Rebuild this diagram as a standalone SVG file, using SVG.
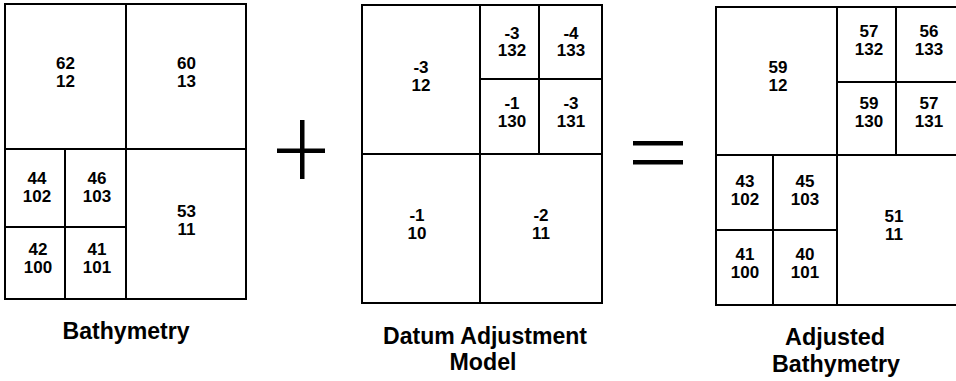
<svg xmlns="http://www.w3.org/2000/svg" width="956" height="381" viewBox="0 0 956 381">
<style>
  .cell { fill: #ffffff; stroke: #000000; stroke-width: 2; }
  .v { font-family: "Liberation Sans", Arial, sans-serif; font-size: 17px; font-weight: bold; fill: #000000; text-anchor: middle; }
  .lbl { font-family: "Liberation Sans", Arial, sans-serif; font-size: 24px; font-weight: bold; fill: #000000; text-anchor: middle; }
  .op { fill: #000000; }
</style>
<rect x="0" y="0" width="956" height="381" fill="#ffffff"/>

<!-- Bathymetry grid -->
<g id="bathymetry">
  <g id="b-12"><rect class="cell" x="5" y="4" width="121" height="145"/><text class="v" x="65.5" y="69"><tspan x="65.5">62</tspan><tspan x="65.5" dy="17.5">12</tspan></text></g>
  <g id="b-13"><rect class="cell" x="126" y="4" width="120" height="145"/><text class="v" x="186.5" y="69"><tspan x="186.5">60</tspan><tspan x="186.5" dy="17.5">13</tspan></text></g>
  <g id="b-102"><rect class="cell" x="5" y="149" width="60" height="78"/><text class="v" x="37" y="184"><tspan x="37">44</tspan><tspan x="37" dy="17.5">102</tspan></text></g>
  <g id="b-103"><rect class="cell" x="65" y="149" width="61" height="78"/><text class="v" x="97" y="184"><tspan x="97">46</tspan><tspan x="97" dy="17.5">103</tspan></text></g>
  <g id="b-100"><rect class="cell" x="5" y="227" width="60" height="72"/><text class="v" x="38" y="255"><tspan x="38">42</tspan><tspan x="38" dy="17.5">100</tspan></text></g>
  <g id="b-101"><rect class="cell" x="65" y="227" width="61" height="72"/><text class="v" x="97" y="255"><tspan x="97">41</tspan><tspan x="97" dy="17.5">101</tspan></text></g>
  <g id="b-11"><rect class="cell" x="126" y="149" width="120" height="150"/><text class="v" x="186.5" y="217"><tspan x="186.5">53</tspan><tspan x="186.5" dy="17.5">11</tspan></text></g>
  <text class="lbl" x="126" y="339" textLength="127" lengthAdjust="spacingAndGlyphs">Bathymetry</text>
</g>

<!-- Datum Adjustment Model grid -->
<g id="datum">
  <g id="d-12"><rect class="cell" x="362" y="5" width="118" height="149"/><text class="v" x="421" y="73"><tspan x="421">-3</tspan><tspan x="421" dy="17.5">12</tspan></text></g>
  <g id="d-132"><rect class="cell" x="480" y="5" width="59" height="74"/><text class="v" x="512" y="38.5"><tspan x="512">-3</tspan><tspan x="512" dy="17.5">132</tspan></text></g>
  <g id="d-133"><rect class="cell" x="539" y="5" width="63" height="74"/><text class="v" x="571" y="38.5"><tspan x="571">-4</tspan><tspan x="571" dy="17.5">133</tspan></text></g>
  <g id="d-130"><rect class="cell" x="480" y="79" width="59" height="75"/><text class="v" x="512" y="109"><tspan x="512">-1</tspan><tspan x="512" dy="17.5">130</tspan></text></g>
  <g id="d-131"><rect class="cell" x="539" y="79" width="63" height="75"/><text class="v" x="571" y="109"><tspan x="571">-3</tspan><tspan x="571" dy="17.5">131</tspan></text></g>
  <g id="d-10"><rect class="cell" x="362" y="154" width="118" height="149"/><text class="v" x="417" y="221"><tspan x="417">-1</tspan><tspan x="417" dy="17.5">10</tspan></text></g>
  <g id="d-11"><rect class="cell" x="480" y="154" width="122" height="149"/><text class="v" x="541" y="221"><tspan x="541">-2</tspan><tspan x="541" dy="17.5">11</tspan></text></g>
  <text class="lbl" x="485" y="344" textLength="204" lengthAdjust="spacingAndGlyphs">Datum Adjustment</text>
  <text class="lbl" x="483" y="370" textLength="67" lengthAdjust="spacingAndGlyphs">Model</text>
</g>

<!-- Adjusted Bathymetry grid -->
<g id="adjusted">
  <g id="a-12"><rect class="cell" x="716" y="7" width="121" height="148"/><text class="v" x="778" y="73"><tspan x="778">59</tspan><tspan x="778" dy="17.5">12</tspan></text></g>
  <g id="a-132"><rect class="cell" x="837" y="7" width="59" height="75"/><text class="v" x="869" y="37"><tspan x="869">57</tspan><tspan x="869" dy="17.5">132</tspan></text></g>
  <g id="a-133"><rect class="cell" x="896" y="7" width="62" height="75"/><text class="v" x="929" y="37"><tspan x="929">56</tspan><tspan x="929" dy="17.5">133</tspan></text></g>
  <g id="a-130"><rect class="cell" x="837" y="82" width="59" height="73"/><text class="v" x="869" y="109"><tspan x="869">59</tspan><tspan x="869" dy="17.5">130</tspan></text></g>
  <g id="a-131"><rect class="cell" x="896" y="82" width="62" height="73"/><text class="v" x="929" y="109"><tspan x="929">57</tspan><tspan x="929" dy="17.5">131</tspan></text></g>
  <g id="a-102"><rect class="cell" x="716" y="155" width="57" height="75"/><text class="v" x="745" y="187"><tspan x="745">43</tspan><tspan x="745" dy="17.5">102</tspan></text></g>
  <g id="a-103"><rect class="cell" x="773" y="155" width="64" height="75"/><text class="v" x="805" y="187"><tspan x="805">45</tspan><tspan x="805" dy="17.5">103</tspan></text></g>
  <g id="a-100"><rect class="cell" x="716" y="230" width="57" height="75"/><text class="v" x="745" y="260"><tspan x="745">41</tspan><tspan x="745" dy="17.5">100</tspan></text></g>
  <g id="a-101"><rect class="cell" x="773" y="230" width="64" height="75"/><text class="v" x="805" y="260"><tspan x="805">40</tspan><tspan x="805" dy="17.5">101</tspan></text></g>
  <g id="a-11"><rect class="cell" x="837" y="155" width="121" height="150"/><text class="v" x="894" y="222"><tspan x="894">51</tspan><tspan x="894" dy="17.5">11</tspan></text></g>
  <text class="lbl" x="835" y="345" textLength="100" lengthAdjust="spacingAndGlyphs">Adjusted</text>
  <text class="lbl" x="836" y="371.5" textLength="128" lengthAdjust="spacingAndGlyphs">Bathymetry</text>
</g>

<!-- operators -->
<g id="connectors">
  <g id="plus">
    <rect class="op" x="300" y="120" width="4.5" height="59"/>
    <rect class="op" x="277" y="148.5" width="48" height="4.5"/>
  </g>
  <g id="equals">
    <rect class="op" x="633" y="141" width="50" height="4.5"/>
    <rect class="op" x="633" y="160" width="50" height="4.5"/>
  </g>
</g>
</svg>
